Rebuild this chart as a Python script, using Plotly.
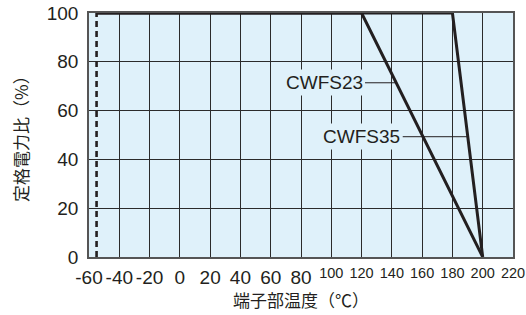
import numpy as np
import plotly.graph_objects as go

# Data
temp_ticks = [-60, -40, -20, 0, 20, 40, 60, 80, 100, 120, 140, 160, 180, 200, 220]
power_ticks = [0, 20, 40, 60, 80, 100]
cwfs23_x = [-55, 120, 200]
cwfs23_y = [100, 100, 0]
cwfs35_x = [-55, 180, 200]
cwfs35_y = [100, 100, 0]
min_temp = -55
labels = ["CWFS23", "CWFS35"]
label_levels = [71.4, 49.3]
label_centers = [95.2, 120.1]
x_title = "端子部温度（℃）"
y_title = "定格電力比（%）"

BG = "#dff1fa"
INK = "#231f20"
FONT = "Liberation Sans, Arial, sans-serif"
CJK = "Noto Sans CJK JP"
XRANGE = [-60, 220]

fig = go.Figure()

fig.add_trace(go.Scatter(x=[min_temp, min_temp], y=[0, 100], mode="lines", xaxis="x2",
                         line=dict(color=INK, width=2.6, dash="6px,4px"), showlegend=False,
                         hoverinfo="skip"))
fig.add_trace(go.Scatter(x=cwfs23_x, y=cwfs23_y, mode="lines",
                         line=dict(color=INK, width=3), showlegend=False))
fig.add_trace(go.Scatter(x=cwfs35_x, y=cwfs35_y, mode="lines",
                         line=dict(color=INK, width=3), showlegend=False))

curves = [(cwfs23_x, cwfs23_y), (cwfs35_x, cwfs35_y)]
for name, lvl, cx, (xs, ys) in zip(labels, label_levels, label_centers, curves):
    px = float(np.interp(lvl, ys[::-1], xs[::-1]))
    fig.add_annotation(x=px, y=lvl, ax=cx, ay=lvl, axref="x", ayref="y",
                       text=name, showarrow=True, arrowhead=0, arrowwidth=1,
                       arrowcolor=INK, standoff=0, bgcolor=BG, borderpad=2,
                       font=dict(family=FONT, size=19, color=INK))

fig.add_annotation(xref="paper", yref="paper", x=0.5, y=0, yshift=-42,
                   xanchor="center", yanchor="middle", showarrow=False,
                   text=x_title, font=dict(family=CJK, size=17, color=INK))
fig.add_annotation(xref="paper", yref="paper", x=0, y=0.5, xshift=-69,
                   xanchor="center", yanchor="middle", showarrow=False, textangle=-90,
                   text=y_title, font=dict(family=CJK, size=17, color=INK))

high_ticks = [t for t in temp_ticks if t >= 100]
ticktext = [str(t) if t < 100 else "" for t in temp_ticks]

fig.update_layout(
    xaxis=dict(range=XRANGE, tickvals=temp_ticks, ticktext=ticktext, tickangle=0,
               automargin=False,
               showgrid=True, gridcolor="#2b2b2b", gridwidth=1.2,
               showline=True, linecolor="#555555", linewidth=1.5, mirror=True,
               zeroline=False, ticks="", ticklabelstandoff=2,
               tickfont=dict(family=FONT, size=19, color=INK)),
    xaxis2=dict(range=XRANGE, tickvals=high_ticks, ticktext=[str(t) for t in high_ticks],
                tickangle=0, overlaying="x", anchor="y", side="bottom", automargin=False,
                showgrid=False, showline=False, zeroline=False, ticks="",
                ticklabelstandoff=5,
                tickfont=dict(family=FONT, size=14.5, color=INK)),
    yaxis=dict(range=[0, 100], tickvals=power_ticks, automargin=False,
               showgrid=True, gridcolor="#2b2b2b", gridwidth=1.2,
               showline=True, linecolor="#555555", linewidth=1.5, mirror=True,
               zeroline=False, ticks="", ticklabelstandoff=5,
               tickfont=dict(family=FONT, size=19, color=INK)),
    width=526, height=315, margin=dict(l=89, r=13, t=13, b=58),
    plot_bgcolor=BG, paper_bgcolor="white")

fig.write_html("out.html", config={"displayModeBar": False},
               post_script="document.body.style.margin='0';document.body.style.overflow='hidden';")
